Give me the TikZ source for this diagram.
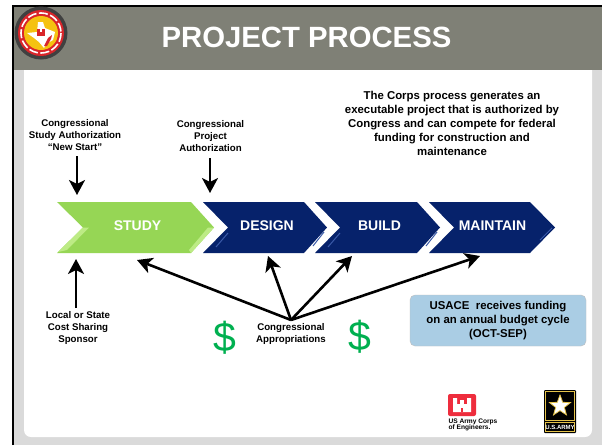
\documentclass[tikz,border=0pt]{standalone}
\usepackage{fontspec}
\setmainfont{Liberation Sans}
\usetikzlibrary{arrows.meta,shapes.geometric}
\definecolor{bandgray}{HTML}{7F8076}
\definecolor{panelgray}{HTML}{DADADA}
\definecolor{studygreen}{HTML}{96D655}
\definecolor{studylight}{HTML}{BDEB85}
\definecolor{planblue}{HTML}{06226B}
\definecolor{planlight}{HTML}{3A5AA8}
\definecolor{boxblue}{HTML}{AACDE4}
\definecolor{dollargreen}{HTML}{00B050}
\definecolor{corpsred}{HTML}{EE2D3D}
\definecolor{armygold}{HTML}{E5C34A}
\definecolor{sealred}{HTML}{D9252A}
\definecolor{sealyellow}{HTML}{F5C211}

\begin{document}
\begin{tikzpicture}[x=1pt, y=-1pt, >={Stealth[length=15pt,width=16pt,inset=4pt]}, align=center,
  note/.style={font=\fontsize{9.7}{12}\selectfont\bfseries, inner sep=0pt},
  stage/.style={font=\fontsize{14}{16}\selectfont\bfseries, text=white, inner sep=0pt},
  flow/.style={->, line width=2.6pt, black},
  dollar/.style={font=\fontsize{41}{43}\selectfont, text=dollargreen, inner sep=0pt}]
  \useasboundingbox (0,0) rectangle (602,445);
  \fill[white] (0,0) rectangle (602,445);

  % slide background
  \fill[panelgray] (13,6) rectangle (602,445);
  \fill[white, rounded corners=7pt] (24,60) rectangle (592,437);
  \fill[bandgray] (13,6) rectangle (602,70);
  \draw[line width=2pt] (13,445) -- (13,6) -- (602,6);

  % seal
  \fill[black!75] (41,33) circle (26.5);
  \fill[sealred] (41,33) circle (23);
  \draw[white, line width=1.6pt, dash pattern=on 9pt off 2.5pt] (41,33) circle (20);
  \fill[sealyellow] (41,33) circle (17);
  \fill[white] (38,22) -- (43,22) -- (45,28) -- (55,32) -- (53,40) -- (46,44) -- (44,48)
    -- (39,42) -- (34,38) -- (27,33) -- (37,32) -- cycle;
  \fill[sealred] (37,29) rectangle (45,36);
  \fill[white] (40,29) rectangle (42,31.5);
  \fill[sealred] (44,46) -- (48,38) -- (52,35) -- (51,39) -- (47,46) -- cycle;

  \node[font=\fontsize{29.3}{31}\selectfont\bfseries, text=white, inner sep=0pt] (title) at (306.5,37) {PROJECT PROCESS};

  % process chevrons
  \fill[studygreen] (57,202) -- (191,202) -- (214,227.5) -- (191,253) -- (57,253) -- (83,227.5) -- cycle;
  \fill[studylight] (191,253) -- (214,227.5) -- (208,227.5) -- (189,250) -- cycle;
  \fill[studylight] (58,252) -- (83,227.5) -- (89,227.5) -- (67,250) -- cycle;
  \fill[planblue] (203,202) -- (304,202) -- (327,227.5) -- (304,253) -- (203,253) -- (228,227.5) -- cycle;
  \fill[planblue] (315,202) -- (417,202) -- (440,227.5) -- (417,253) -- (315,253) -- (340,227.5) -- cycle;
  \fill[planblue] (429,202) -- (530,202) -- (555,227.5) -- (530,253) -- (429,253) -- (454,227.5) -- cycle;
  \draw[planlight, line width=1pt] (216,247) -- (228,233) (328,247) -- (340,233);
  \draw[planlight, line width=1pt] (313,246) -- (324,232) (426,246) -- (437,232) (540,240) -- (552,228);

  \node[stage] (study)    at (137.5,226) {STUDY};
  \node[stage] (design)   at (267,226) {DESIGN};
  \node[stage] (build)    at (379.5,226) {BUILD};
  \node[stage] (maintain) at (492.5,226) {MAINTAIN};

  % labels
  \node[note] (newstart) at (75,135.5) {Congressional\\Study Authorization\\``New Start''};
  \node[note] (projauth) at (210.5,136.5) {Congressional\\Project\\Authorization};
  \node[note] (sponsor)  at (78,328) {Local or State\\Cost Sharing\\Sponsor};
  \node[note] (approp)   at (291,334) {Congressional\\Appropriations};
  \node[font=\fontsize{11.4}{14}\selectfont\bfseries, inner sep=0pt] (corps) at (452,123)
    {The Corps process generates an\\executable project that is authorized by\\Congress and can compete for federal\\funding for construction and\\maintenance};

  \node[dollar] (dollarleft)  at (224.5,338) {\$};
  \node[dollar] (dollarright) at (359.5,337) {\$};

  \node[draw=black!25, fill=boxblue, rounded corners=5pt, minimum width=176pt, minimum height=51pt,
    inner sep=0pt, font=\fontsize{11.4}{14}\selectfont\bfseries] (budget) at (498,320.5)
    {USACE\ \ receives funding\\on an annual budget cycle\\(OCT-SEP)};

  % arrow ends
  \coordinate (newstartfrom) at (77,156);
  \coordinate (newstartto) at (77,195);
  \coordinate (projfrom) at (210,158);
  \coordinate (projto) at (210,193);
  \coordinate (sponsorfrom) at (76,308);
  \coordinate (sponsorto) at (76,259);
  \coordinate (hub) at (291,320);
  \coordinate (tostudy) at (137,260);
  \coordinate (todesign) at (268,256);
  \coordinate (tobuild) at (352,256);
  \coordinate (tomaintain) at (480,256);

  \path[flow]
        (newstartfrom) edge (newstartto)
        (projfrom)     edge (projto)
        (sponsorfrom)  edge (sponsorto)
        (hub) edge (tostudy)
              edge (todesign)
              edge (tobuild)
              edge (tomaintain)
        ;

  % corps castle
  \fill[corpsred, rounded corners=2pt] (448,394) rectangle (476,416);
  \fill[white] (453,398) rectangle (457,412) (467,398) rectangle (471,412) (457,404) rectangle (467,412);
  \fill[white] (460,400) rectangle (464,404);
  \fill[corpsred] (461,408) rectangle (463,412);
  \node[font=\fontsize{6.6}{6.6}\selectfont\bfseries, align=left, inner sep=0pt] (corpsmark) at (473,425) {US Army Corps\\of Engineers.};

  % army mark
  \fill[black, rounded corners=1pt] (544,390) rectangle (576,433);
  \draw[armygold, line width=.7pt] (545.5,391.5) rectangle (574.5,420);
  \draw[armygold, line width=.7pt] (545.5,422) rectangle (574.5,431.5);
  \node[star, star points=5, star point ratio=2.4, fill=white, draw=armygold, line width=.8pt,
    minimum size=22pt, inner sep=0pt] (armystar) at (560,406) {};
  \node[font=\fontsize{6}{6}\selectfont\bfseries, text=white, inner sep=0pt] (armyname) at (560,427) {U.S.ARMY};
\end{tikzpicture}
\end{document}
